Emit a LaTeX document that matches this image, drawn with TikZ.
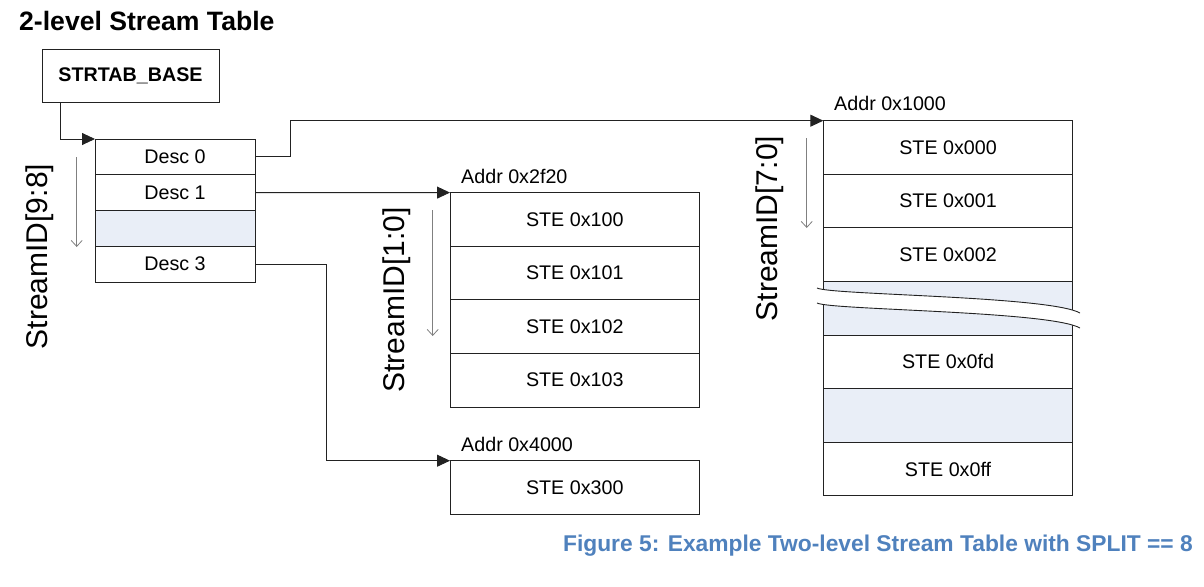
\documentclass[tikz,border=0pt]{standalone}
\usepackage{fontspec}
\setmainfont{Liberation Sans}
\usetikzlibrary{arrows.meta}
\definecolor{rowblue}{HTML}{E9EEF7}
\definecolor{capblue}{HTML}{4F81BD}
\definecolor{linegray}{HTML}{222222}
\begin{document}
\begin{tikzpicture}[x=1pt,y=-1pt,
  txt/.style={font=\fontsize{19.7}{23}\selectfont},
  cell/.style={draw=linegray, line width=0.9pt, txt, outer sep=0pt, inner sep=0pt, anchor=north west},
  desccell/.style={cell, minimum width=160pt, minimum height=35.75pt},
  stecell/.style={cell, minimum width=249.5pt, minimum height=53.6pt},
  blank/.style={fill=rowblue},
  conn/.style={draw=linegray, line width=0.9pt, -{Triangle[length=13pt,width=12pt]}},
  idarrow/.style={draw=gray, line width=0.8pt, -{Straight Barb[length=6pt,width=11pt]}},
  idlabel/.style={rotate=90, font=\fontsize{30}{36}\selectfont, inner sep=0pt},
  addr/.style={txt, anchor=base west, inner sep=0pt}
]
\useasboundingbox (0,0) rectangle (1204,586);

% title
\node[anchor=base west, inner sep=0pt, font=\bfseries\fontsize{26.6}{31}\selectfont] (title) at (19,30.5) {2-level Stream Table};

% STRTAB_BASE
\node[draw=linegray, line width=0.9pt, anchor=north west, minimum width=177pt, minimum height=53pt, inner sep=0pt, outer sep=0pt,
      font=\bfseries\fontsize{19.7}{23}\selectfont] (base) at (42,49) {STRTAB\_BASE};

% descriptor table
\node[desccell] (d0) at (95,139) {Desc 0};
\node[desccell] (d1) at (95,174.75) {Desc 1};
\node[desccell, blank] (d2) at (95,210.5) {};
\node[desccell] (d3) at (95,246.25) {Desc 3};

% table at 0x2f20
\node[stecell] (t0) at (450,192.6) {STE 0x100};
\node[stecell] (t1) at (450,246.2) {STE 0x101};
\node[stecell] (t2) at (450,299.8) {STE 0x102};
\node[stecell] (t3) at (450,353.4) {STE 0x103};
\node[addr] (a2f20) at (461,183.3) {Addr 0x2f20};

% table at 0x4000
\node[stecell, minimum height=53.3pt] (u0) at (450,460.7) {STE 0x300};
\node[addr] (a4000) at (461,451) {Addr 0x4000};

% table at 0x1000
\node[stecell] (s0) at (823.3,120.7) {STE 0x000};
\node[stecell] (s1) at (823.3,174.3) {STE 0x001};
\node[stecell] (s2) at (823.3,227.9) {STE 0x002};
\node[stecell, blank] (s3) at (823.3,281.5) {};
\node[stecell] (s4) at (823.3,335.1) {STE 0x0fd};
\node[stecell, blank] (s5) at (823.3,388.7) {};
\node[stecell] (s6) at (823.3,442.3) {STE 0x0ff};
\node[addr] (a1000) at (834,110.5) {Addr 0x1000};

% break in the table
\fill[white] (817,288) .. controls (830,295) and (1050,296) .. (1080,313) -- (1080,328) .. controls (1050,311) and (830,310) .. (817,303) -- cycle;
\draw[linegray, line width=0.9pt] (817,288) .. controls (830,295) and (1050,296) .. (1080,313);
\draw[linegray, line width=0.9pt] (817,303) .. controls (830,310) and (1050,311) .. (1080,328);

% connectors
\draw[conn] ([xshift=18pt]base.south west) |- (d0.north west);
\draw[conn] (d0.east) -- ++(35,0) |- (s0.north west);
\draw[conn] (d1.east) -- (t0.north west);
\draw[conn] (d3.east) -- ++(71,0) |- (u0.north west);

% StreamID labels and direction arrows
\node[idlabel] (id98) at (40,256.5) {StreamID[9:8]};
\node[idlabel] (id10) at (397,300) {StreamID[1:0]};
\node[idlabel] (id70) at (770,228.5) {StreamID[7:0]};
\coordinate (l1) at (76.7,157);  \coordinate (l2) at (76.7,247);
\coordinate (m1) at (432.7,210); \coordinate (m2) at (432.7,336);
\coordinate (r1) at (806.7,138); \coordinate (r2) at (806.7,228);
\draw[idarrow] (l1) -- (l2);
\draw[idarrow] (m1) -- (m2);
\draw[idarrow] (r1) -- (r2);

% caption
\node[anchor=base east, inner sep=0pt, text=capblue, font=\bfseries\fontsize{22.8}{27}\selectfont] (caption) at (1193,551.5)
  {Figure 5: Example Two-level Stream Table with SPLIT == 8};
\end{tikzpicture}
\end{document}
